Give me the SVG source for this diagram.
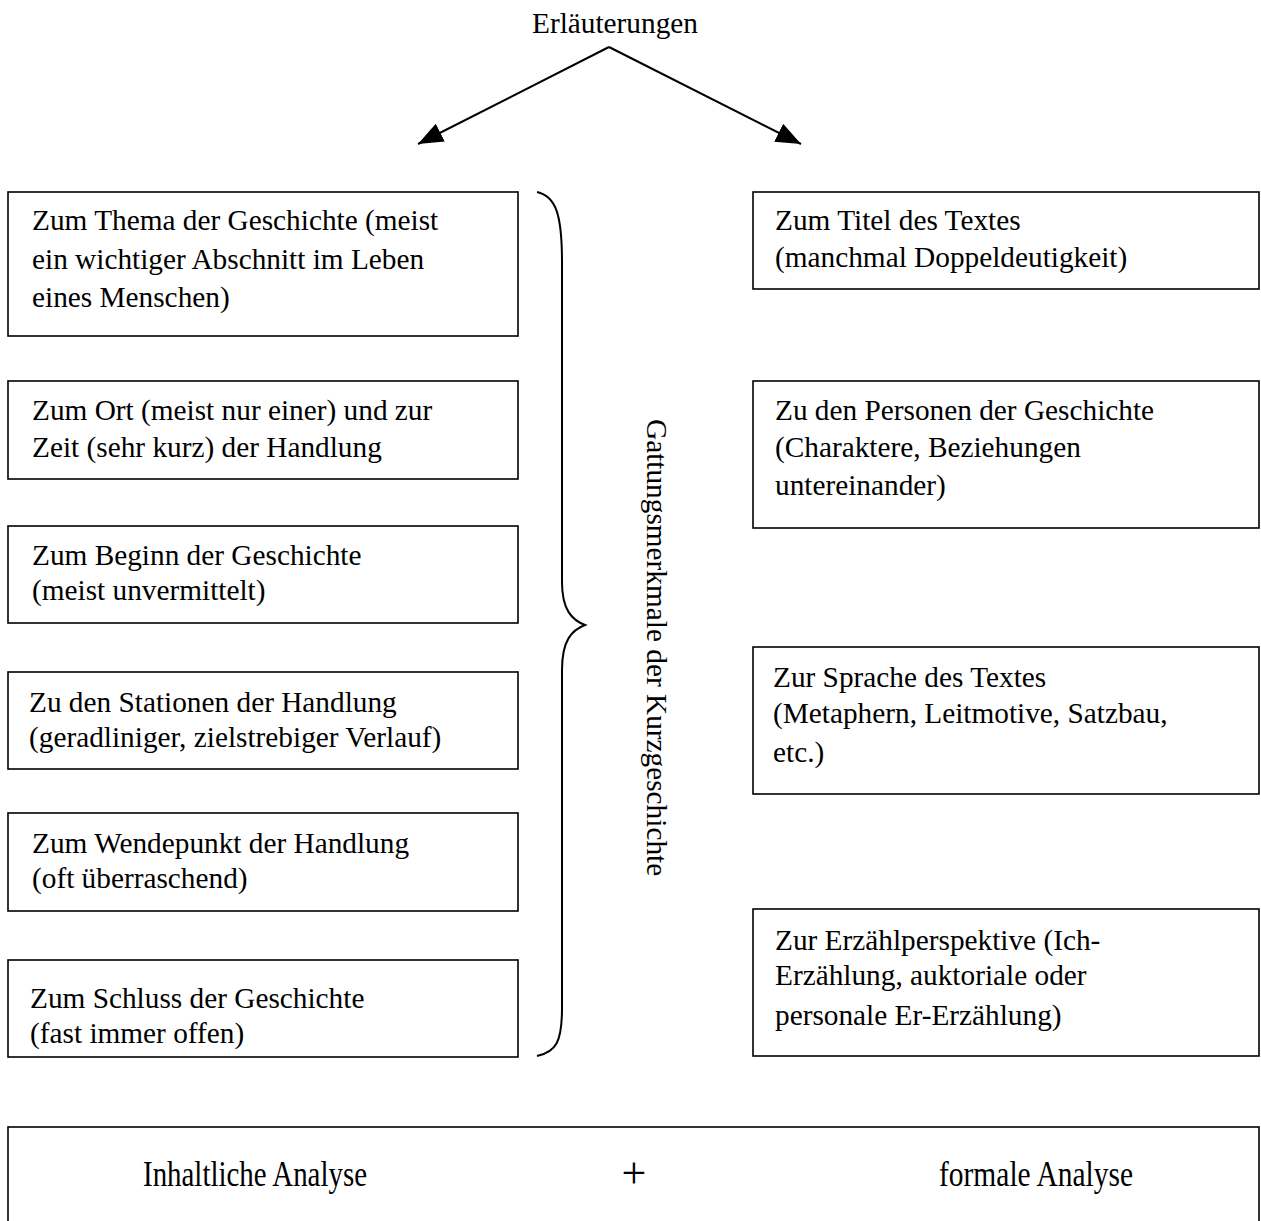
<svg xmlns="http://www.w3.org/2000/svg" width="1261" height="1221" viewBox="0 0 1261 1221">
<style>
.box{fill:#fff;stroke:#000;stroke-width:1.6}
.t{font-family:"Liberation Serif","Times New Roman",serif;font-size:29.3px;fill:#000}
.b{font-family:"Liberation Serif","Times New Roman",serif;font-size:35px;fill:#000}
.conn{fill:none;stroke:#000;stroke-width:2}
</style>
<defs>
<marker id="ah" markerUnits="userSpaceOnUse" markerWidth="28" markerHeight="22" refX="25" refY="10" orient="auto">
<path d="M0,0 L25,10 L0,20 Z" fill="#000"/>
</marker>
</defs>
<rect width="1261" height="1221" fill="#fff"/>
<g id="title"><text class="t" x="532" y="33">Erläuterungen</text></g>
<g id="connectors">
<line class="conn" x1="609" y1="47" x2="418" y2="144" marker-end="url(#ah)"/>
<line class="conn" x1="609" y1="47" x2="801" y2="144" marker-end="url(#ah)"/>
<path class="conn" d="M537,192 C556,196 562,215 562,262 L562,582 C562,610 572,620 585,625 C572,630 562,640 562,670 L562,1008 C562,1042 556,1052 537,1056" stroke-width="1.8"/>
</g>
<g id="brace-label"><text class="t" transform="translate(647,419) rotate(90)">Gattungsmerkmale der Kurzgeschichte</text></g>
<g id="l1"><rect class="box" x="8" y="192" width="510" height="144"/>
<text class="t" x="32" y="230">Zum Thema der Geschichte (meist</text>
<text class="t" x="32" y="268.5">ein wichtiger Abschnitt im Leben</text>
<text class="t" x="32" y="307">eines Menschen)</text></g>
<g id="l2"><rect class="box" x="8" y="381" width="510" height="98"/>
<text class="t" x="32" y="420">Zum Ort (meist nur einer) und zur</text>
<text class="t" x="32" y="457">Zeit (sehr kurz) der Handlung</text></g>
<g id="l3"><rect class="box" x="8" y="526" width="510" height="97"/>
<text class="t" x="32" y="565">Zum Beginn der Geschichte</text>
<text class="t" x="32" y="600">(meist unvermittelt)</text></g>
<g id="l4"><rect class="box" x="8" y="672" width="510" height="97"/>
<text class="t" x="29" y="711.5">Zu den Stationen der Handlung</text>
<text class="t" x="29" y="746.5">(geradliniger, zielstrebiger Verlauf)</text></g>
<g id="l5"><rect class="box" x="8" y="813" width="510" height="98"/>
<text class="t" x="32" y="853">Zum Wendepunkt der Handlung</text>
<text class="t" x="32" y="888">(oft überraschend)</text></g>
<g id="l6"><rect class="box" x="8" y="960" width="510" height="97"/>
<text class="t" x="30" y="1008">Zum Schluss der Geschichte</text>
<text class="t" x="30" y="1043">(fast immer offen)</text></g>
<g id="r1"><rect class="box" x="753" y="192" width="506" height="97"/>
<text class="t" x="775" y="230">Zum Titel des Textes</text>
<text class="t" x="775" y="267">(manchmal Doppeldeutigkeit)</text></g>
<g id="r2"><rect class="box" x="753" y="381" width="506" height="147"/>
<text class="t" x="775" y="420">Zu den Personen der Geschichte</text>
<text class="t" x="775" y="457">(Charaktere, Beziehungen</text>
<text class="t" x="775" y="495">untereinander)</text></g>
<g id="r3"><rect class="box" x="753" y="647" width="506" height="147"/>
<text class="t" x="773" y="687">Zur Sprache des Textes</text>
<text class="t" x="773" y="723">(Metaphern, Leitmotive, Satzbau,</text>
<text class="t" x="773" y="762">etc.)</text></g>
<g id="r4"><rect class="box" x="753" y="909" width="506" height="147"/>
<text class="t" x="775" y="950">Zur Erzählperspektive (Ich-</text>
<text class="t" x="775" y="985">Erzählung, auktoriale oder</text>
<text class="t" x="775" y="1025">personale Er-Erzählung)</text></g>
<g id="bottom"><rect class="box" x="8" y="1127" width="1251" height="200"/>
<text class="b" x="143" y="1186" textLength="224" lengthAdjust="spacingAndGlyphs">Inhaltliche Analyse</text>
<text class="b" x="634" y="1188" text-anchor="middle" style="font-size:44px">+</text>
<text class="b" x="939" y="1186" textLength="194" lengthAdjust="spacingAndGlyphs">formale Analyse</text></g>
</svg>
